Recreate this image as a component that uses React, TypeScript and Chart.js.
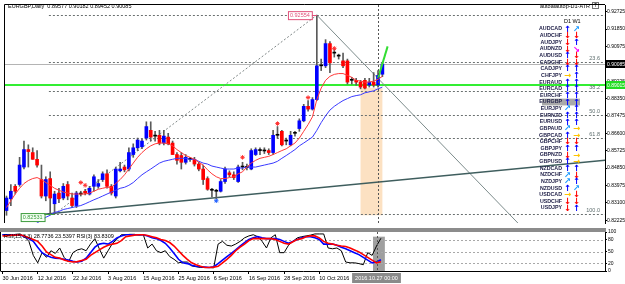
import React, { useEffect, useRef } from 'react';
import { Chart, registerables } from 'chart.js';

Chart.register(...registerables);

const FONT = "'Liberation Sans', Arial, sans-serif";
const fnt = (s: number, w = '') => `${w} ${s}px ${FONT}`.trim();

// ---------------- data (EURGBP daily, 29/30 Jun 2016 .. 28 Oct 2016) ----------------
const opens = [
  0.8271, 0.8330, 0.8393, 0.8402, 0.8490, 0.8578, 0.8563, 0.8529, 0.8427, 0.8344,
  0.8432, 0.8305, 0.8359, 0.8334, 0.8402, 0.8334, 0.8296, 0.8354, 0.8368, 0.8354,
  0.8393, 0.8393, 0.8427, 0.8456, 0.8393, 0.8344, 0.8471, 0.8490, 0.8480, 0.8553,
  0.8587, 0.8592, 0.8636, 0.8675, 0.8646, 0.8650, 0.8611, 0.8641, 0.8611, 0.8553,
  0.8548, 0.8514, 0.8529, 0.8529, 0.8505, 0.8480, 0.8432, 0.8373, 0.8368, 0.8368,
  0.8417, 0.8461, 0.8451, 0.8417, 0.8490, 0.8488, 0.8480, 0.8553, 0.8573, 0.8571,
  0.8573, 0.8563, 0.8650, 0.8670, 0.8621, 0.8602, 0.8660, 0.8684, 0.8723, 0.8796,
  0.8782, 0.8830, 0.9000, 0.9000, 0.9112, 0.9064, 0.9049, 0.9025, 0.9025, 0.8927,
  0.8927, 0.8918, 0.8927, 0.8903, 0.8918, 0.8903, 0.89577,
];
const highs = [
  0.8344, 0.8402, 0.8402, 0.8539, 0.8621, 0.8602, 0.8587, 0.8573, 0.8500, 0.8441,
  0.8466, 0.8368, 0.8383, 0.8407, 0.8417, 0.8359, 0.8368, 0.8368, 0.8378, 0.8393,
  0.8451, 0.8427, 0.8466, 0.8476, 0.8402, 0.8490, 0.8514, 0.8500, 0.8587, 0.8607,
  0.8636, 0.8631, 0.8718, 0.8718, 0.8670, 0.8675, 0.8675, 0.8660, 0.8621, 0.8563,
  0.8563, 0.8553, 0.8539, 0.8539, 0.8514, 0.8500, 0.8441, 0.8383, 0.8378, 0.8427,
  0.8490, 0.8471, 0.8466, 0.8500, 0.8514, 0.8505, 0.8582, 0.8587, 0.8587, 0.8587,
  0.8582, 0.8675, 0.8694, 0.8675, 0.8636, 0.8670, 0.8670, 0.8733, 0.8806, 0.8825,
  0.8840, 0.92554, 0.9034, 0.9132, 0.9122, 0.9083, 0.9059, 0.9064, 0.9034, 0.8942,
  0.8937, 0.8927, 0.8937, 0.8937, 0.8966, 0.8976, 0.90182,
];
const lows = [
  0.8247, 0.8296, 0.8354, 0.8393, 0.8480, 0.8490, 0.8529, 0.8490, 0.8334, 0.8320,
  0.8260, 0.82531, 0.8310, 0.8325, 0.8325, 0.8286, 0.8286, 0.8344, 0.8349, 0.8349,
  0.8368, 0.8383, 0.8417, 0.8383, 0.8349, 0.8334, 0.8466, 0.8466, 0.8471, 0.8539,
  0.8573, 0.8582, 0.8626, 0.8621, 0.8621, 0.8602, 0.8602, 0.8602, 0.8553, 0.8505,
  0.8480, 0.8505, 0.8519, 0.8495, 0.8471, 0.8402, 0.8373, 0.8339, 0.8330, 0.8364,
  0.8407, 0.8441, 0.8427, 0.8412, 0.8476, 0.8476, 0.8476, 0.8548, 0.8553, 0.8558,
  0.8553, 0.8553, 0.8636, 0.8597, 0.8602, 0.8597, 0.8646, 0.8670, 0.8718, 0.8772,
  0.8777, 0.8825, 0.8976, 0.8991, 0.8966, 0.9044, 0.9034, 0.8991, 0.8908, 0.8908,
  0.8903, 0.8884, 0.8884, 0.8893, 0.8893, 0.8893, 0.89452,
];
const closes = [
  0.8334, 0.8368, 0.8368, 0.8500, 0.8578, 0.8568, 0.8529, 0.8500, 0.8344, 0.8427,
  0.8334, 0.8354, 0.8330, 0.8393, 0.8344, 0.8296, 0.8359, 0.8354, 0.8359, 0.8383,
  0.8441, 0.8407, 0.8456, 0.8393, 0.8359, 0.8480, 0.8480, 0.8476, 0.8563, 0.8587,
  0.8626, 0.8621, 0.8694, 0.8641, 0.8646, 0.8611, 0.8646, 0.8607, 0.8553, 0.8524,
  0.8514, 0.8539, 0.8529, 0.8505, 0.8480, 0.8427, 0.8378, 0.8373, 0.8368, 0.8417,
  0.8480, 0.8451, 0.8437, 0.8490, 0.8490, 0.8488, 0.8573, 0.8578, 0.8573, 0.8571,
  0.8563, 0.8650, 0.8650, 0.8602, 0.8621, 0.8650, 0.8660, 0.8723, 0.8796, 0.8782,
  0.8830, 0.9000, 0.9000, 0.9112, 0.9015, 0.9064, 0.9049, 0.9000, 0.8918, 0.8927,
  0.8918, 0.8893, 0.8888, 0.8918, 0.8903, 0.8952, 0.90085,
];
// red (fast) and blue (slow) moving averages
const maFast = [
  0.8286, 0.8320, 0.8354, 0.8383, 0.8407, 0.8422, 0.8432, 0.8437, 0.8427, 0.8412,
  0.8398, 0.8383, 0.8373, 0.8364, 0.8359, 0.8354, 0.8354, 0.8354, 0.8354, 0.8359,
  0.8368, 0.8378, 0.8383, 0.8388, 0.8388, 0.8407, 0.8427, 0.8451, 0.8480, 0.8510,
  0.8539, 0.8563, 0.8582, 0.8597, 0.8607, 0.8611, 0.8611, 0.8607, 0.8597, 0.8578,
  0.8563, 0.8548, 0.8539, 0.8529, 0.8514, 0.8500, 0.8476, 0.8456, 0.8441, 0.8432,
  0.8432, 0.8437, 0.8441, 0.8456, 0.8466, 0.8490, 0.8510, 0.8524, 0.8534, 0.8539,
  0.8544, 0.8553, 0.8563, 0.8573, 0.8582, 0.8597, 0.8611, 0.8636, 0.8670, 0.8704,
  0.8743, 0.8830, 0.8888, 0.8927, 0.8947, 0.8957, 0.8961, 0.8961, 0.8952, 0.8942,
  0.8927, 0.8923, 0.8918, 0.8918, 0.8923, 0.8932, 0.8947,
];
const maSlow = [
  0.8101, 0.8121, 0.8135, 0.8150, 0.8160, 0.8169, 0.8194, 0.8208, 0.8223, 0.8237,
  0.8247, 0.8262, 0.8266, 0.8276, 0.8281, 0.8286, 0.8291, 0.8296, 0.8305, 0.8315,
  0.8325, 0.8334, 0.8344, 0.8354, 0.8364, 0.8373, 0.8383, 0.8388, 0.8398, 0.8412,
  0.8432, 0.8451, 0.8466, 0.8480, 0.8495, 0.8510, 0.8519, 0.8524, 0.8529, 0.8534,
  0.8534, 0.8534, 0.8529, 0.8529, 0.8519, 0.8510, 0.8505, 0.8495, 0.8490, 0.8485,
  0.8480, 0.8480, 0.8480, 0.8485, 0.8485, 0.8490, 0.8490, 0.8490, 0.8495, 0.8500,
  0.8505, 0.8510, 0.8519, 0.8534, 0.8548, 0.8563, 0.8578, 0.8597, 0.8611, 0.8626,
  0.8641, 0.8675, 0.8714, 0.8748, 0.8777, 0.8796, 0.8811, 0.8825, 0.8835, 0.8845,
  0.8850, 0.8854, 0.8864, 0.8869, 0.8874, 0.8884, 0.8893,
];
// RSI panel: RSI(3) (black), signal (blue), slow (red)
const rsiMain = [
  93, 93, 92, 94, 95, 88, 76, 40, 21, 47,
  35, 52, 45, 59, 35, 23, 47, 54, 57, 52,
  69, 83, 57, 33, 52, 71, 81, 93, 93, 94,
  94, 92, 93, 59, 69, 52, 47, 52, 37, 30,
  21, 23, 23, 13, 11, 9, 9, 9, 8, 69,
  76, 66, 64, 69, 76, 85, 90, 93, 88, 76,
  59, 85, 93, 47, 47, 66, 76, 85, 88, 90,
  92, 95, 95, 95, 59, 57, 59, 52, 23, 21,
  21, 19, 16, 47, 40, 64, 83.8309,
];
const rsiSignal = [
  93, 93, 93, 93, 93, 88, 83, 76, 61, 47,
  40, 35, 33, 32, 30, 28, 25, 23, 25, 33,
  47, 61, 69, 71, 69, 76, 85, 90, 93, 93,
  93, 93, 93, 90, 85, 83, 78, 71, 59, 45,
  30, 21, 19, 15, 12, 11, 10, 9, 11, 19,
  28, 37, 45, 54, 64, 73, 81, 85, 88, 85,
  83, 83, 83, 81, 76, 71, 76, 81, 85, 88,
  88, 85, 81, 69, 69, 69, 66, 61, 57, 52,
  47, 42, 35, 28, 21, 23, 28.7736,
];
const rsiSlow = [
  90, 90, 92, 92, 93, 90, 85, 81, 76, 64,
  49, 42, 35, 33, 28, 25, 23, 24, 27, 30,
  40, 47, 54, 61, 66, 69, 71, 78, 88, 90,
  92, 93, 93, 91, 88, 85, 81, 78, 73, 64,
  52, 40, 30, 21, 16, 12, 9, 9, 10, 12,
  21, 30, 40, 52, 61, 69, 78, 83, 83, 83,
  83, 83, 81, 76, 71, 69, 75, 81, 83, 88,
  90, 90, 85, 76, 71, 69, 66, 64, 63, 59,
  54, 49, 42, 35, 28, 21, 23.5397,
];

const xTickIdx = [0, 8, 16, 24, 32, 40, 48, 56, 64, 72];
const xTickLabels = ['30 Jun 2016', '12 Jul 2016', '22 Jul 2016', '3 Aug 2016', '15 Aug 2016', '25 Aug 2016', '6 Sep 2016', '16 Sep 2016', '28 Sep 2016', '10 Oct 2016'];
const priceTicks = [0.92725, 0.9185, 0.90975, 0.901, 0.89225, 0.8835, 0.87475, 0.866, 0.85725, 0.8485, 0.83975, 0.831, 0.82225];
const rsiTicks = [0, 20, 50, 80, 100];
const rsiLevels = [20, 50, 80];

const swingHigh = 0.92554;
const swingHighIdx = 71;
const swingLow = 0.82531;
const swingLowIdx = 11;
const fibLevels = [0, 23.6, 38.2, 50.0, 61.8, 100.0];
const fibStartIdx = 9.7;
const lastPrice = 0.90085;
const supportLevel = 0.89015;
const zoneIdx = [81, 86];
const zonePrice = [0.8888, 0.8247];
const cursorIdx = 85;
const cursorLabel = '2016.10.27 00:00';
const selIdx = [84.2, 86.9];
const selRsi = [0, 88];
const upTrendIdx = [8.5, 137];
const upTrendPrice = [0.8252, 0.8524];
const downTrendIdx = [71, 117];
const downTrendPrice = [0.92554, 0.8208];
const fibDiagIdx = [11, 71];
const fibDiagPrice = [0.82531, 0.92554];
const projIdx = [85, 87.2];
const projPrice = [0.8937, 0.9098];
const fracUpIdx = [17, 18, 54, 62, 69, 75];
const fracUpPrice = [0.8412, 0.8398, 0.8539, 0.8709, 0.8840, 0.9088];
const fracDnIdx = [48];
const fracDnPrice = [0.8320];

const pairs = ['AUDCAD', 'AUDCHF', 'AUDJPY', 'AUDNZD', 'AUDUSD', 'CADCHF', 'CADJPY', 'CHFJPY', 'EURAUD', 'EURCAD', 'EURCHF', 'EURGBP', 'EURJPY', 'EURNZD', 'EURUSD', 'GBPAUD', 'GBPCAD', 'GBPCHF', 'GBPJPY', 'GBPNZD', 'GBPUSD', 'NZDCAD', 'NZDCHF', 'NZDJPY', 'NZDUSD', 'USDCAD', 'USDCHF', 'USDJPY'];
const d1Trend = ['up', 'down', 'down', 'down', 'up', 'down', 'up', 'flat', 'up', 'up', 'up', 'up', 'upish', 'up', 'up', 'upish', 'up', 'down', 'up', 'down', 'up', 'up', 'upish', 'upish', 'up', 'flat', 'down', 'down'];
const w1Trend = ['upish', 'down', 'up', 'downish', 'down', 'down', 'up', 'up', 'up', 'up', 'up', 'up', 'up', 'up', 'up', 'flat', 'flat', 'down', 'up', 'flat', 'flat', 'up', 'down', 'up', 'upish', 'down', 'down', 'up'];
const activePair = 'EURGBP';

const titleText = 'EURGBP,Daily  0.89577 0.90182 0.89452 0.90085';
const indicatorName = 'autoalautop-D1-ATR';
const rsiTitle = 'RSI(15,3,3) 28.7736 23.5397 RSI(3) 83.8309';

const X_MIN = -0.34;
const X_MAX = 136.93;
const PRICE_MIN = 0.82081;
const PRICE_MAX = 0.93065;

const arrowGlyph: any = { up: '\u2191', down: '\u2193', upish: '\u2197', downish: '\u2198', flat: '\u2192' };
const arrowColor: any = { up: '#0000ff', down: '#ff0000', upish: '#1e9bff', downish: '#ff00ff', flat: '#ffc400' };

// ---------------- plugins ----------------
const mainDecor = {
  id: 'mainDecor',
  beforeDraw(chart: any) {
    const { ctx, width, height } = chart;
    ctx.save();
    ctx.fillStyle = '#ffffff';
    ctx.fillRect(0, 0, width, height);
    ctx.restore();
  },
  beforeDatasetsDraw(chart: any) {
    const { ctx, chartArea: a, scales } = chart;
    const xs = scales.x, ys = scales.y;
    ctx.save();
    ctx.beginPath();
    ctx.rect(a.left, a.top, a.right - a.left, a.bottom - a.top);
    ctx.clip();
    const zx0 = xs.getPixelForValue(zoneIdx[0]);
    const zx1 = xs.getPixelForValue(zoneIdx[1]);
    const zy0 = ys.getPixelForValue(zonePrice[0]);
    const zy1 = ys.getPixelForValue(zonePrice[1]);
    ctx.fillStyle = '#fce1c2';
    ctx.fillRect(zx0, zy0, zx1 - zx0, zy1 - zy0);
    const fx = xs.getPixelForValue(fibStartIdx);
    ctx.strokeStyle = '#6a7070';
    ctx.lineWidth = 1;
    ctx.setLineDash([2, 2]);
    fibLevels.forEach((l) => {
      const p = swingHigh - ((swingHigh - swingLow) * l) / 100;
      const py = Math.round(ys.getPixelForValue(p)) + 0.5;
      ctx.beginPath();
      ctx.moveTo(fx, py);
      ctx.lineTo(a.right, py);
      ctx.stroke();
    });
    ctx.setLineDash([]);
    let py = Math.round(ys.getPixelForValue(lastPrice)) + 0.5;
    ctx.strokeStyle = '#b4b4b4';
    ctx.beginPath();
    ctx.moveTo(a.left, py);
    ctx.lineTo(a.right, py);
    ctx.stroke();
    py = Math.round(ys.getPixelForValue(supportLevel));
    ctx.strokeStyle = '#33ee33';
    ctx.lineWidth = 2;
    ctx.beginPath();
    ctx.moveTo(a.left, py);
    ctx.lineTo(a.right, py);
    ctx.stroke();
    ctx.restore();
  },
  afterDatasetsDraw(chart: any) {
    const { ctx, chartArea: a, scales } = chart;
    const xs = scales.x, ys = scales.y;
    ctx.save();
    const cx = Math.round(xs.getPixelForValue(cursorIdx)) + 0.5;
    ctx.strokeStyle = '#555555';
    ctx.lineWidth = 1;
    ctx.setLineDash([2, 2]);
    ctx.beginPath();
    ctx.moveTo(cx, a.top);
    ctx.lineTo(cx, a.bottom);
    ctx.stroke();
    ctx.setLineDash([]);
    ctx.font = fnt(5.5);
    ctx.fillStyle = '#5e6e6e';
    ctx.textAlign = 'right';
    ctx.textBaseline = 'bottom';
    fibLevels.forEach((l) => {
      if (l === 0) return;
      const p = swingHigh - ((swingHigh - swingLow) * l) / 100;
      const py = ys.getPixelForValue(p);
      ctx.fillText(l.toFixed(1), a.right - 5, py - 0.5);
    });
    ctx.textAlign = 'left';
    ctx.textBaseline = 'middle';
    const hx = xs.getPixelForValue(swingHighIdx);
    const hy = ys.getPixelForValue(swingHigh);
    const ht = swingHigh.toFixed(5);
    const hw = ctx.measureText(ht).width + 4;
    ctx.fillStyle = '#ffffff';
    ctx.fillRect(hx - 5 - hw, hy - 4, hw, 8);
    ctx.strokeStyle = '#e0507a';
    ctx.strokeRect(hx - 5 - hw + 0.5, hy - 4 + 0.5, hw, 8);
    ctx.fillStyle = '#e0507a';
    ctx.fillText(ht, hx - 5 - hw + 2, hy + 0.5);
    ctx.beginPath();
    ctx.moveTo(hx - 5, Math.round(hy) + 0.5);
    ctx.lineTo(hx, Math.round(hy) + 0.5);
    ctx.stroke();
    const lx = xs.getPixelForValue(swingLowIdx);
    const ly = ys.getPixelForValue(swingLow);
    const lt = swingLow.toFixed(5);
    const lw = ctx.measureText(lt).width + 4;
    const lbx = lx - 10 - lw;
    ctx.fillStyle = '#f4fff4';
    ctx.fillRect(lbx, ly - 1, lw, 8);
    ctx.strokeStyle = '#3c9c3c';
    ctx.strokeRect(lbx + 0.5, ly - 0.5, lw, 8);
    ctx.fillStyle = '#3c9c3c';
    ctx.fillText(lt, lbx + 2, ly + 3.5);
    ctx.beginPath();
    ctx.moveTo(lbx + lw, Math.round(ly) + 0.5);
    ctx.lineTo(lx, Math.round(ly) + 0.5);
    ctx.stroke();
    ctx.fillStyle = '#000000';
    ctx.font = fnt(5.5);
    ctx.textAlign = 'left';
    ctx.textBaseline = 'middle';
    ctx.fillText(titleText, a.left + 3, 6);
    ctx.textAlign = 'right';
    ctx.fillText(indicatorName, a.right - 15, 6);
    ctx.strokeStyle = '#777777';
    ctx.strokeRect(a.right - 12.5, 2.5, 6, 6);
    ctx.font = fnt(4.5);
    ctx.textAlign = 'center';
    ctx.fillText('T', a.right - 9.5, 6);
    const colD1 = 567.5, colW1 = 576.5, nameRight = 562;
    ctx.font = fnt(5.5);
    ctx.fillStyle = '#000000';
    ctx.textAlign = 'center';
    ctx.fillText('D1', colD1, 21);
    ctx.fillText('W1', colW1, 21);
    pairs.forEach((p, k) => {
      const ry = 29 + k * 6.63;
      if (p === activePair) {
        ctx.fillStyle = '#a9a9a9';
        ctx.fillRect(542, ry - 3.3, 38, 6.8);
      }
      ctx.font = fnt(5.3, 'bold');
      ctx.fillStyle = '#22224a';
      ctx.textAlign = 'right';
      ctx.textBaseline = 'middle';
      ctx.fillText(p, nameRight, ry);
      ctx.font = "bold 8.5px 'DejaVu Sans', sans-serif";
      ctx.textAlign = 'center';
      ctx.fillStyle = arrowColor[d1Trend[k]];
      ctx.fillText(arrowGlyph[d1Trend[k]], colD1, ry + 0.5);
      ctx.fillStyle = arrowColor[w1Trend[k]];
      ctx.fillText(arrowGlyph[w1Trend[k]], colW1, ry + 0.5);
    });
    ctx.restore();
  },
  afterDraw(chart: any) {
    const { ctx, chartArea: a, scales, width } = chart;
    const ys = scales.y;
    ctx.save();
    ctx.strokeStyle = '#000000';
    ctx.lineWidth = 1;
    ctx.beginPath();
    ctx.moveTo(a.left - 0.5, a.bottom);
    ctx.lineTo(a.left - 0.5, a.top - 0.5);
    ctx.lineTo(a.right, a.top - 0.5);
    ctx.stroke();
    ctx.font = fnt(5);
    ctx.textAlign = 'left';
    ctx.textBaseline = 'middle';
    const boxes = [
      { v: supportLevel, bg: '#22dd22', fg: '#ffffff' },
      { v: lastPrice, bg: '#000000', fg: '#ffffff' },
    ];
    boxes.forEach((b) => {
      const py = Math.round(ys.getPixelForValue(b.v));
      ctx.fillStyle = b.bg;
      ctx.fillRect(a.right + 1, py - 4, width - a.right - 1, 8);
      ctx.fillStyle = b.fg;
      ctx.fillText(b.v.toFixed(5), a.right + 2, py + 0.5);
    });
    ctx.restore();
  },
};

const rsiDecor = {
  id: 'rsiDecor',
  beforeDraw(chart: any) {
    const { ctx, width, height, chartArea: a } = chart;
    ctx.save();
    ctx.fillStyle = '#ffffff';
    ctx.fillRect(0, 0, width, height);
    ctx.fillStyle = '#8c8c8c';
    ctx.fillRect(0, 0, a.right + 1, a.top);
    ctx.restore();
  },
  beforeDatasetsDraw(chart: any) {
    const { ctx, chartArea: a, scales } = chart;
    const xs = scales.x, ys = scales.y;
    ctx.save();
    const sx0 = xs.getPixelForValue(selIdx[0]);
    const sx1 = xs.getPixelForValue(selIdx[1]);
    const sy0 = ys.getPixelForValue(selRsi[1]);
    const sy1 = ys.getPixelForValue(selRsi[0]);
    ctx.fillStyle = 'rgba(135,135,135,0.8)';
    ctx.fillRect(sx0, sy0, sx1 - sx0, sy1 - sy0);
    ctx.strokeStyle = '#a8a8a8';
    ctx.lineWidth = 1;
    ctx.setLineDash([2, 2]);
    rsiLevels.forEach((l) => {
      const py = Math.round(ys.getPixelForValue(l)) + 0.5;
      ctx.beginPath();
      ctx.moveTo(a.left, py);
      ctx.lineTo(a.right, py);
      ctx.stroke();
    });
    ctx.restore();
  },
  afterDatasetsDraw(chart: any) {
    const { ctx, chartArea: a, scales } = chart;
    const xs = scales.x;
    ctx.save();
    const cx = Math.round(xs.getPixelForValue(cursorIdx)) + 0.5;
    ctx.strokeStyle = '#555555';
    ctx.lineWidth = 1;
    ctx.setLineDash([2, 2]);
    ctx.beginPath();
    ctx.moveTo(cx, a.top);
    ctx.lineTo(cx, a.bottom);
    ctx.stroke();
    ctx.setLineDash([]);
    ctx.font = fnt(5.5);
    ctx.fillStyle = '#000000';
    ctx.textAlign = 'left';
    ctx.textBaseline = 'middle';
    ctx.fillText(rsiTitle, a.left + 3, a.top + 4);
    ctx.restore();
  },
  afterDraw(chart: any) {
    const { ctx, chartArea: a, scales } = chart;
    const xs = scales.x;
    ctx.save();
    ctx.strokeStyle = '#000000';
    ctx.lineWidth = 1;
    ctx.beginPath();
    ctx.moveTo(a.left - 0.5, a.top);
    ctx.lineTo(a.left - 0.5, a.bottom + 0.5);
    ctx.stroke();
    const cx = xs.getPixelForValue(cursorIdx);
    ctx.font = fnt(5.5);
    const w = ctx.measureText(cursorLabel).width + 6;
    ctx.fillStyle = '#8a8a8a';
    ctx.fillRect(cx - w / 2, a.bottom + 2, w, 10);
    ctx.fillStyle = '#ffffff';
    ctx.textAlign = 'center';
    ctx.textBaseline = 'middle';
    ctx.fillText(cursorLabel, cx, a.bottom + 7.5);
    ctx.restore();
  },
};

// ---------------- configs ----------------
const idx = opens.map((_, i) => i);
const pts = (xsArr: number[], ysArr: number[]) => xsArr.map((x, i) => ({ x, y: ysArr[i] }));

function mainConfig(): any {
  const bodyColors = idx.map((i) => (closes[i] > opens[i] ? '#0000ff' : closes[i] < opens[i] ? '#ff0000' : '#000000'));
  return {
    type: 'bar',
    data: {
      datasets: [
        { type: 'line', data: pts(projIdx, projPrice), borderColor: '#33dd33', borderWidth: 2, pointRadius: 0, order: 0 },
        { type: 'scatter', data: pts(fracUpIdx, fracUpPrice), pointStyle: 'star', pointRadius: 2.2, borderColor: '#ff3030', backgroundColor: '#ff3030', borderWidth: 1, order: 1 },
        { type: 'scatter', data: pts(fracDnIdx, fracDnPrice), pointStyle: 'star', pointRadius: 2.2, borderColor: '#2060ff', backgroundColor: '#2060ff', borderWidth: 1, order: 1 },
        { type: 'line', data: pts(idx, maFast), borderColor: '#ff3a3a', borderWidth: 1, pointRadius: 0, tension: 0, order: 2 },
        { type: 'line', data: pts(idx, maSlow), borderColor: '#3a3aff', borderWidth: 1, pointRadius: 0, tension: 0, order: 3 },
        { type: 'bar', data: idx.map((i) => ({ x: i, y: [opens[i], closes[i]] })), backgroundColor: bodyColors, barThickness: 3, minBarLength: 1, grouped: false, order: 4 },
        { type: 'bar', data: idx.map((i) => ({ x: i, y: [lows[i], highs[i]] })), backgroundColor: '#5a5a5a', barThickness: 1, grouped: false, order: 5 },
        { type: 'line', data: pts(upTrendIdx, upTrendPrice), borderColor: '#3f5e5e', borderWidth: 1.5, pointRadius: 0, order: 6 },
        { type: 'line', data: pts(downTrendIdx, downTrendPrice), borderColor: '#7d8c8c', borderWidth: 1, pointRadius: 0, order: 6 },
        { type: 'line', data: pts(fibDiagIdx, fibDiagPrice), borderColor: '#808888', borderWidth: 1, borderDash: [2, 2], pointRadius: 0, order: 6 },
      ],
    },
    options: {
      responsive: false,
      animation: false,
      devicePixelRatio: 1,
      layout: { padding: { left: 1, top: 2, right: 0, bottom: 0 } },
      plugins: { legend: { display: false }, tooltip: { enabled: false } },
      scales: {
        x: { type: 'linear', min: X_MIN, max: X_MAX, display: false, offset: false },
        y: {
          type: 'linear', position: 'right', min: PRICE_MIN, max: PRICE_MAX, bounds: 'data',
          afterBuildTicks: (s: any) => { s.ticks = priceTicks.map((v) => ({ value: v })); },
          afterFit: (s: any) => { s.width = 20; },
          ticks: { autoSkip: false, padding: 0, color: '#000000', font: { size: 5, family: FONT }, callback: (v: any) => Number(v).toFixed(5) },
          grid: { drawOnChartArea: false, drawTicks: true, tickLength: 2, color: '#000000' },
          border: { display: true, color: '#000000' },
        },
      },
    },
    plugins: [mainDecor],
  };
}

function rsiConfig(): any {
  return {
    type: 'line',
    data: {
      datasets: [
        { data: pts(idx, rsiSlow), borderColor: '#ff0000', borderWidth: 1.6, pointRadius: 0, order: 0 },
        { data: pts(idx, rsiSignal), borderColor: '#0000ff', borderWidth: 1.6, pointRadius: 0, order: 1 },
        { data: pts(idx, rsiMain), borderColor: '#000000', borderWidth: 1, pointRadius: 0, order: 2 },
      ],
    },
    options: {
      responsive: false,
      animation: false,
      devicePixelRatio: 1,
      layout: { padding: { left: 1, top: 3, right: 0, bottom: 0 } },
      plugins: { legend: { display: false }, tooltip: { enabled: false } },
      scales: {
        x: {
          type: 'linear', min: X_MIN, max: X_MAX, position: 'bottom', offset: false,
          afterBuildTicks: (s: any) => { s.ticks = xTickIdx.map((v) => ({ value: v })); },
          afterFit: (s: any) => { s.height = 13; },
          ticks: {
            autoSkip: false, maxRotation: 0, minRotation: 0, align: 'start', padding: 1, color: '#000000',
            font: { size: 5.5, family: FONT },
            callback: (v: any) => { const k = xTickIdx.indexOf(Number(v)); return k >= 0 ? xTickLabels[k] : ''; },
          },
          grid: { display: true, drawOnChartArea: false, drawTicks: true, tickLength: 3, color: '#000000' },
          border: { display: true, color: '#000000' },
        },
        y: {
          type: 'linear', position: 'right', min: 0, max: 100, bounds: 'data',
          afterBuildTicks: (s: any) => { s.ticks = rsiTicks.map((v) => ({ value: v })); },
          afterFit: (s: any) => { s.width = 20; },
          ticks: { autoSkip: false, padding: 1, color: '#000000', font: { size: 5, family: FONT } },
          grid: { drawOnChartArea: false, drawTicks: true, tickLength: 2, color: '#000000' },
          border: { display: true, color: '#000000' },
        },
      },
    },
    plugins: [rsiDecor],
  };
}

export default function App() {
  const mainRef = useRef<HTMLCanvasElement>(null);
  const rsiRef = useRef<HTMLCanvasElement>(null);
  useEffect(() => {
    const c1 = new Chart(mainRef.current as HTMLCanvasElement, mainConfig());
    const c2 = new Chart(rsiRef.current as HTMLCanvasElement, rsiConfig());
    return () => {
      c1.destroy();
      c2.destroy();
    };
  }, []);
  return (
    <div style={{ position: 'fixed', left: 0, top: 0, width: 625, height: 284, background: '#ffffff', overflow: 'hidden' }}>
      <canvas ref={mainRef} width={625} height={228} style={{ position: 'absolute', left: 0, top: 0, width: 625, height: 228 }} />
      <canvas ref={rsiRef} width={625} height={56} style={{ position: 'absolute', left: 0, top: 228, width: 625, height: 56 }} />
    </div>
  );
}
